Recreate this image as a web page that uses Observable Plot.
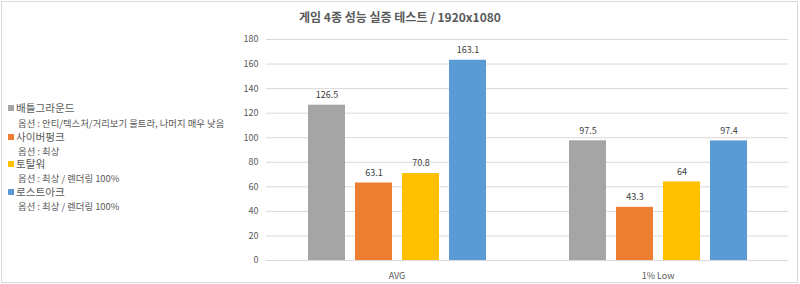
<!DOCTYPE html>
<html><head><meta charset="utf-8">
<script src="https://cdn.jsdelivr.net/npm/d3@7"></script>
<script src="https://cdn.jsdelivr.net/npm/@observablehq/plot@0.6"></script>
<style>
body{margin:0;background:#fff;}
#wrap{position:relative;width:800px;height:284px;overflow:hidden;font-family:"Noto Sans CJK KR","Noto Sans",sans-serif;}
#frame{position:absolute;left:1px;top:1px;width:797px;height:282px;border:1px solid #d9d9d9;box-sizing:border-box;pointer-events:none}
#title{position:absolute;left:0;width:800px;top:7px;text-align:center;font-size:12px;font-weight:bold;color:#595959;line-height:20px}
.leg{position:absolute;left:0;white-space:nowrap;color:#595959;overflow:visible}
.sq{display:inline-block;width:6px;height:6px;margin-right:2px;vertical-align:middle;position:relative;top:-1px}
#chart svg{position:absolute;left:0;top:0}
</style></head>
<body>
<div id="wrap"><div id="chart"></div><div id="title"></div><div id="legend"></div><div id="frame"></div></div>
<script>
const titleText = "게임 4종 성능 실증 테스트 / 1920x1080";
const groups = ["AVG", "1% Low"];
const series = ["배틀그라운드", "사이버펑크", "토탈워", "로스트아크"];
const seriesOptions = [
  "옵션 : 안티/텍스처/거리보기 울트라, 나머지 매우 낮음",
  "옵션 : 최상",
  "옵션 : 최상 / 렌더링 100%",
  "옵션 : 최상 / 렌더링 100%"
];
const avgValues = [126.5, 63.1, 70.8, 163.1];
const lowValues = [97.5, 43.3, 64, 97.4];
const colors = ["#A5A5A5", "#ED7D31", "#FFC000", "#5B9BD5"];
const yTicks = [0, 20, 40, 60, 80, 100, 120, 140, 160, 180];

const data = [];
series.forEach((s, i) => {
  data.push({group: groups[0], series: s, value: avgValues[i]});
  data.push({group: groups[1], series: s, value: lowValues[i]});
});

const chart = Plot.plot({
  width: 800,
  height: 284,
  marginLeft: 265,
  marginRight: 12,
  marginTop: 39,
  marginBottom: 24,
  style: {fontFamily: '"Noto Sans CJK KR","Noto Sans",sans-serif', fontSize: "9px", color: "#595959", background: "transparent"},
  fx: {domain: groups, padding: 0, axis: null, label: null},
  x: {domain: series, paddingInner: 0.22, paddingOuter: 0.86, axis: null},
  y: {domain: [0, 180], axis: null},
  color: {domain: series, range: colors},
  marks: [
    Plot.gridY(yTicks, {stroke: "#d9d9d9", strokeOpacity: 1}),
    Plot.axisY({ticks: yTicks, tickSize: 0, tickPadding: 8, label: null, fill: "#595959"}),
    Plot.barY(data, {fx: "group", x: "series", y: "value", fill: "series"}),
    Plot.ruleY([0], {stroke: "#d9d9d9"}),
    Plot.text(data, {fx: "group", x: "series", y: "value", text: d => String(d.value), dy: -10, fill: "#404040", fontSize: 9}),
    Plot.axisFx({anchor: "bottom", tickSize: 0, tickPadding: 12, label: null, fill: "#595959"})
  ]
});
document.getElementById("chart").appendChild(chart);
document.getElementById("title").textContent = titleText;

const legendTops = [[108, 123.5], [136.5, 151], [164, 178.5], [192, 206]];
const leg = document.getElementById("legend");
series.forEach((s, i) => {
  const a = document.createElement("div");
  a.className = "leg";
  a.style.left = "8px";
  a.style.fontSize = "10.6px";
  a.style.lineHeight = "10px";
  a.style.height = "10px";
  a.style.top = (legendTops[i][0] - 5) + "px";
  const sq = document.createElement("span");
  sq.className = "sq";
  sq.style.background = colors[i];
  a.appendChild(sq);
  a.appendChild(document.createTextNode(s));
  leg.appendChild(a);
  const b = document.createElement("div");
  b.className = "leg";
  b.style.left = "18px";
  b.style.fontSize = "9.4px";
  b.style.lineHeight = "9px";
  b.style.height = "9px";
  b.style.top = (legendTops[i][1] - 4.5) + "px";
  b.textContent = seriesOptions[i];
  leg.appendChild(b);
});
</script>
</body></html>
